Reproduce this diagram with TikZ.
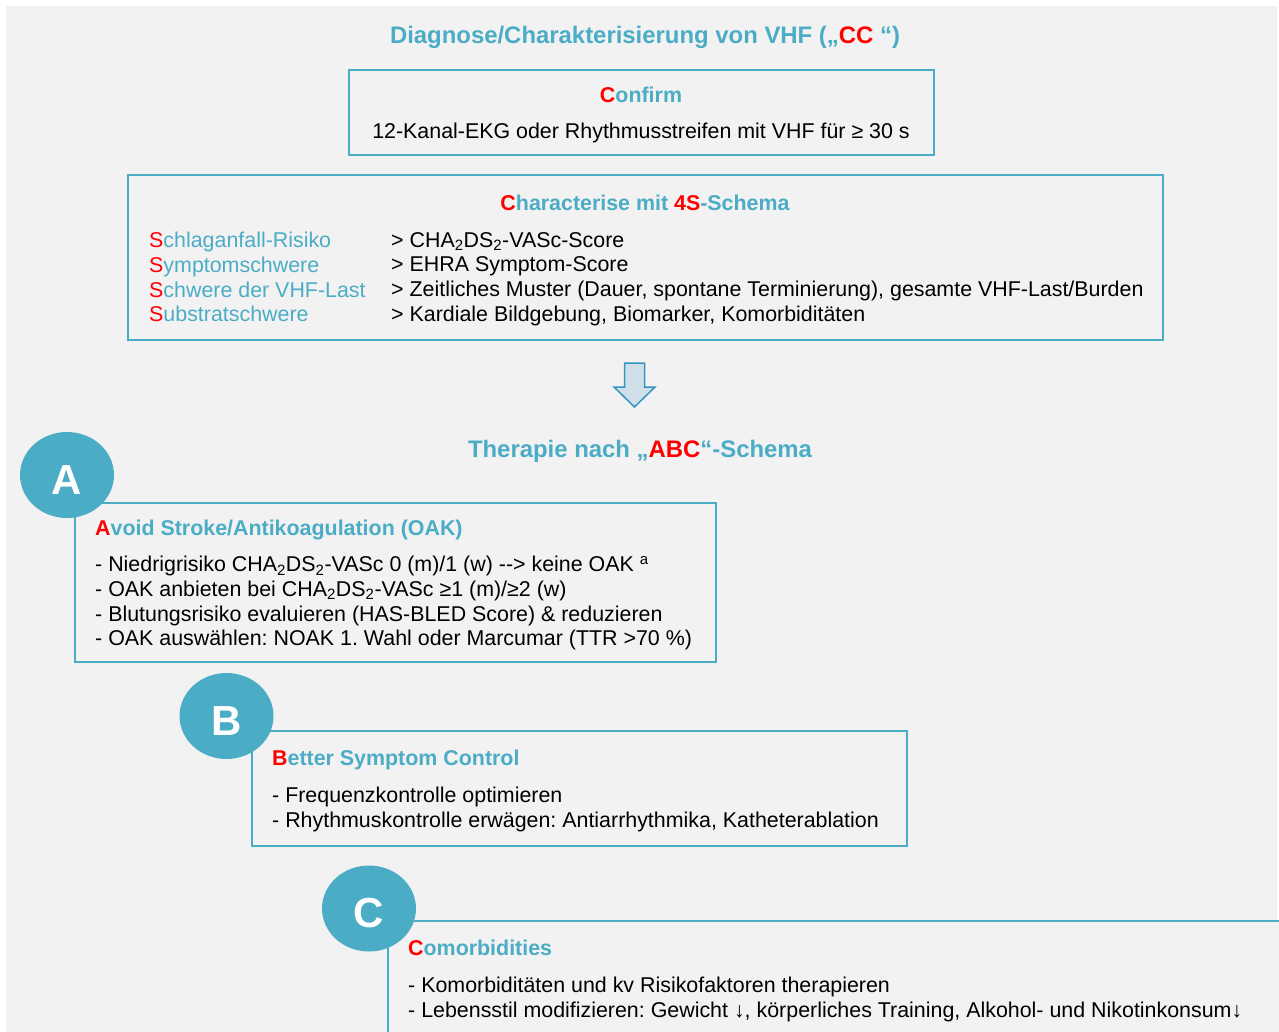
\documentclass[tikz,border=0pt]{standalone}
\usepackage{fontspec}
\setmainfont{Liberation Sans}
\usepackage{xcolor}
\usepackage{tikz}
\usetikzlibrary{shapes.geometric,positioning}
\definecolor{vhfblue}{RGB}{75,172,198}
\definecolor{vhfred}{RGB}{255,0,0}
\definecolor{vhfgray}{RGB}{242,242,242}
\definecolor{arrowfill}{RGB}{208,222,234}
\definecolor{arrowline}{RGB}{52,150,190}
\newcommand{\rd}[1]{\textcolor{vhfred}{#1}}
\frenchspacing

\begin{document}
\begin{tikzpicture}[
    x=1pt, y=-1pt,
    box/.style={rectangle, draw=vhfblue, line width=2.2pt, fill=vhfgray, inner sep=0pt},
    head/.style={font=\fontsize{21.4}{24}\selectfont\bfseries, text=vhfblue, inner sep=0pt},
    bighead/.style={head, font=\fontsize{23.9}{26}\selectfont\bfseries},
    body/.style={font=\fontsize{21.4}{24.7}\selectfont, align=left, inner sep=0pt, anchor=north west},
    letter/.style={ellipse, fill=vhfblue, minimum width=94pt, minimum height=86pt, inner sep=0pt, text=white, text height=38pt, text depth=0pt, font=\fontsize{42}{42}\selectfont\bfseries}
]
\useasboundingbox (0,0) rectangle (1279,1032);
\clip (0,0) rectangle (1279,1032);
\fill[vhfgray] (6,6) rectangle (1277,1040);

\node [bighead, anchor=base] (title) at (645,44) {Diagnose/Charakterisierung von VHF („\rd{CC} “)};

\node [box, minimum width=585pt, minimum height=85pt] (confirm) at (641.5,112.5) {};
\node [head, anchor=base] (confirmhead) at (641,102.5) {\rd{C}onfirm};
\node [body, anchor=base] (confirmtext) at (641,138.5) {12-Kanal-EKG oder Rhythmusstreifen mit VHF für ≥ 30 s};

\node [box, minimum width=1035pt, minimum height=165pt] (charact) at (645.5,257.5) {};
\node [head, anchor=base] (characthead) at (645,210.5) {\rd{C}haracterise mit \rd{4S}-Schema};
\node [body, text=vhfblue] (fours) at (149,232) {\rd{S}chlaganfall-Risiko\\\rd{S}ymptomschwere\\\rd{S}chwere der VHF-Last\\\rd{S}ubstratschwere};
\node [body] (scores) at (391,232) {> CHA\textsubscript{2}DS\textsubscript{2}-VASc-Score\\> EHRA Symptom-Score\\> Zeitliches Muster (Dauer, spontane Terminierung), gesamte VHF-Last/Burden\\> Kardiale Bildgebung, Biomarker, Komorbiditäten};

\coordinate (down) at (634.5,363);
\draw [arrowline, fill=arrowfill, line width=1.5pt, line join=miter] ([xshift=-10pt]down) -- ++(0,24) -- ++(-10.5,0) -- ++(20.5,20) -- ++(20.5,-20) -- ++(-10.5,0) -- ++(0,-24) -- cycle;

\node [bighead, anchor=base] (abc) at (640,457) {Therapie nach „\rd{ABC}“-Schema};

\node [box, minimum width=641pt, minimum height=159pt, anchor=north west] (boxa) at (74,502) {};
\node [letter] (circa) at (67,475) {A};
\node [head, anchor=base west] (heada) at (95,535.5) {\rd{A}void Stroke/Antikoagulation (OAK)};
\node [body] (lista) at (95,556) {- Niedrigrisiko CHA\textsubscript{2}DS\textsubscript{2}-VASc 0 (m)/1 (w) {-}{-}> keine OAK \textsuperscript{a}\\- OAK anbieten bei CHA\textsubscript{2}DS\textsubscript{2}-VASc ≥1 (m)/≥2 (w)\\- Blutungsrisiko evaluieren (HAS-BLED Score) \& reduzieren\\- OAK auswählen: NOAK 1. Wahl oder Marcumar (TTR >70 \%)};

\node [box, minimum width=655pt, minimum height=115pt, anchor=north west] (boxb) at (251,730) {};
\node [letter] (circb) at (226.5,716) {B};
\node [head, anchor=base west] (headb) at (272,765.5) {\rd{B}etter Symptom Control};
\node [body] (listb) at (272,787) {- Frequenzkontrolle optimieren\\- Rhythmuskontrolle erwägen: Antiarrhythmika, Katheterablation};

\node [box, minimum width=920pt, minimum height=140pt, anchor=north west] (boxc) at (387,920) {};
\node [letter] (circc) at (369,908.5) {C};
\node [head, anchor=base west] (headc) at (408,955.5) {\rd{C}omorbidities};
\node [body] (listc) at (408,977) {- Komorbiditäten und kv Risikofaktoren therapieren\\- Lebensstil modifizieren: Gewicht ↓, körperliches Training, Alkohol- und Nikotinkonsum↓};

\end{tikzpicture}
\end{document}
